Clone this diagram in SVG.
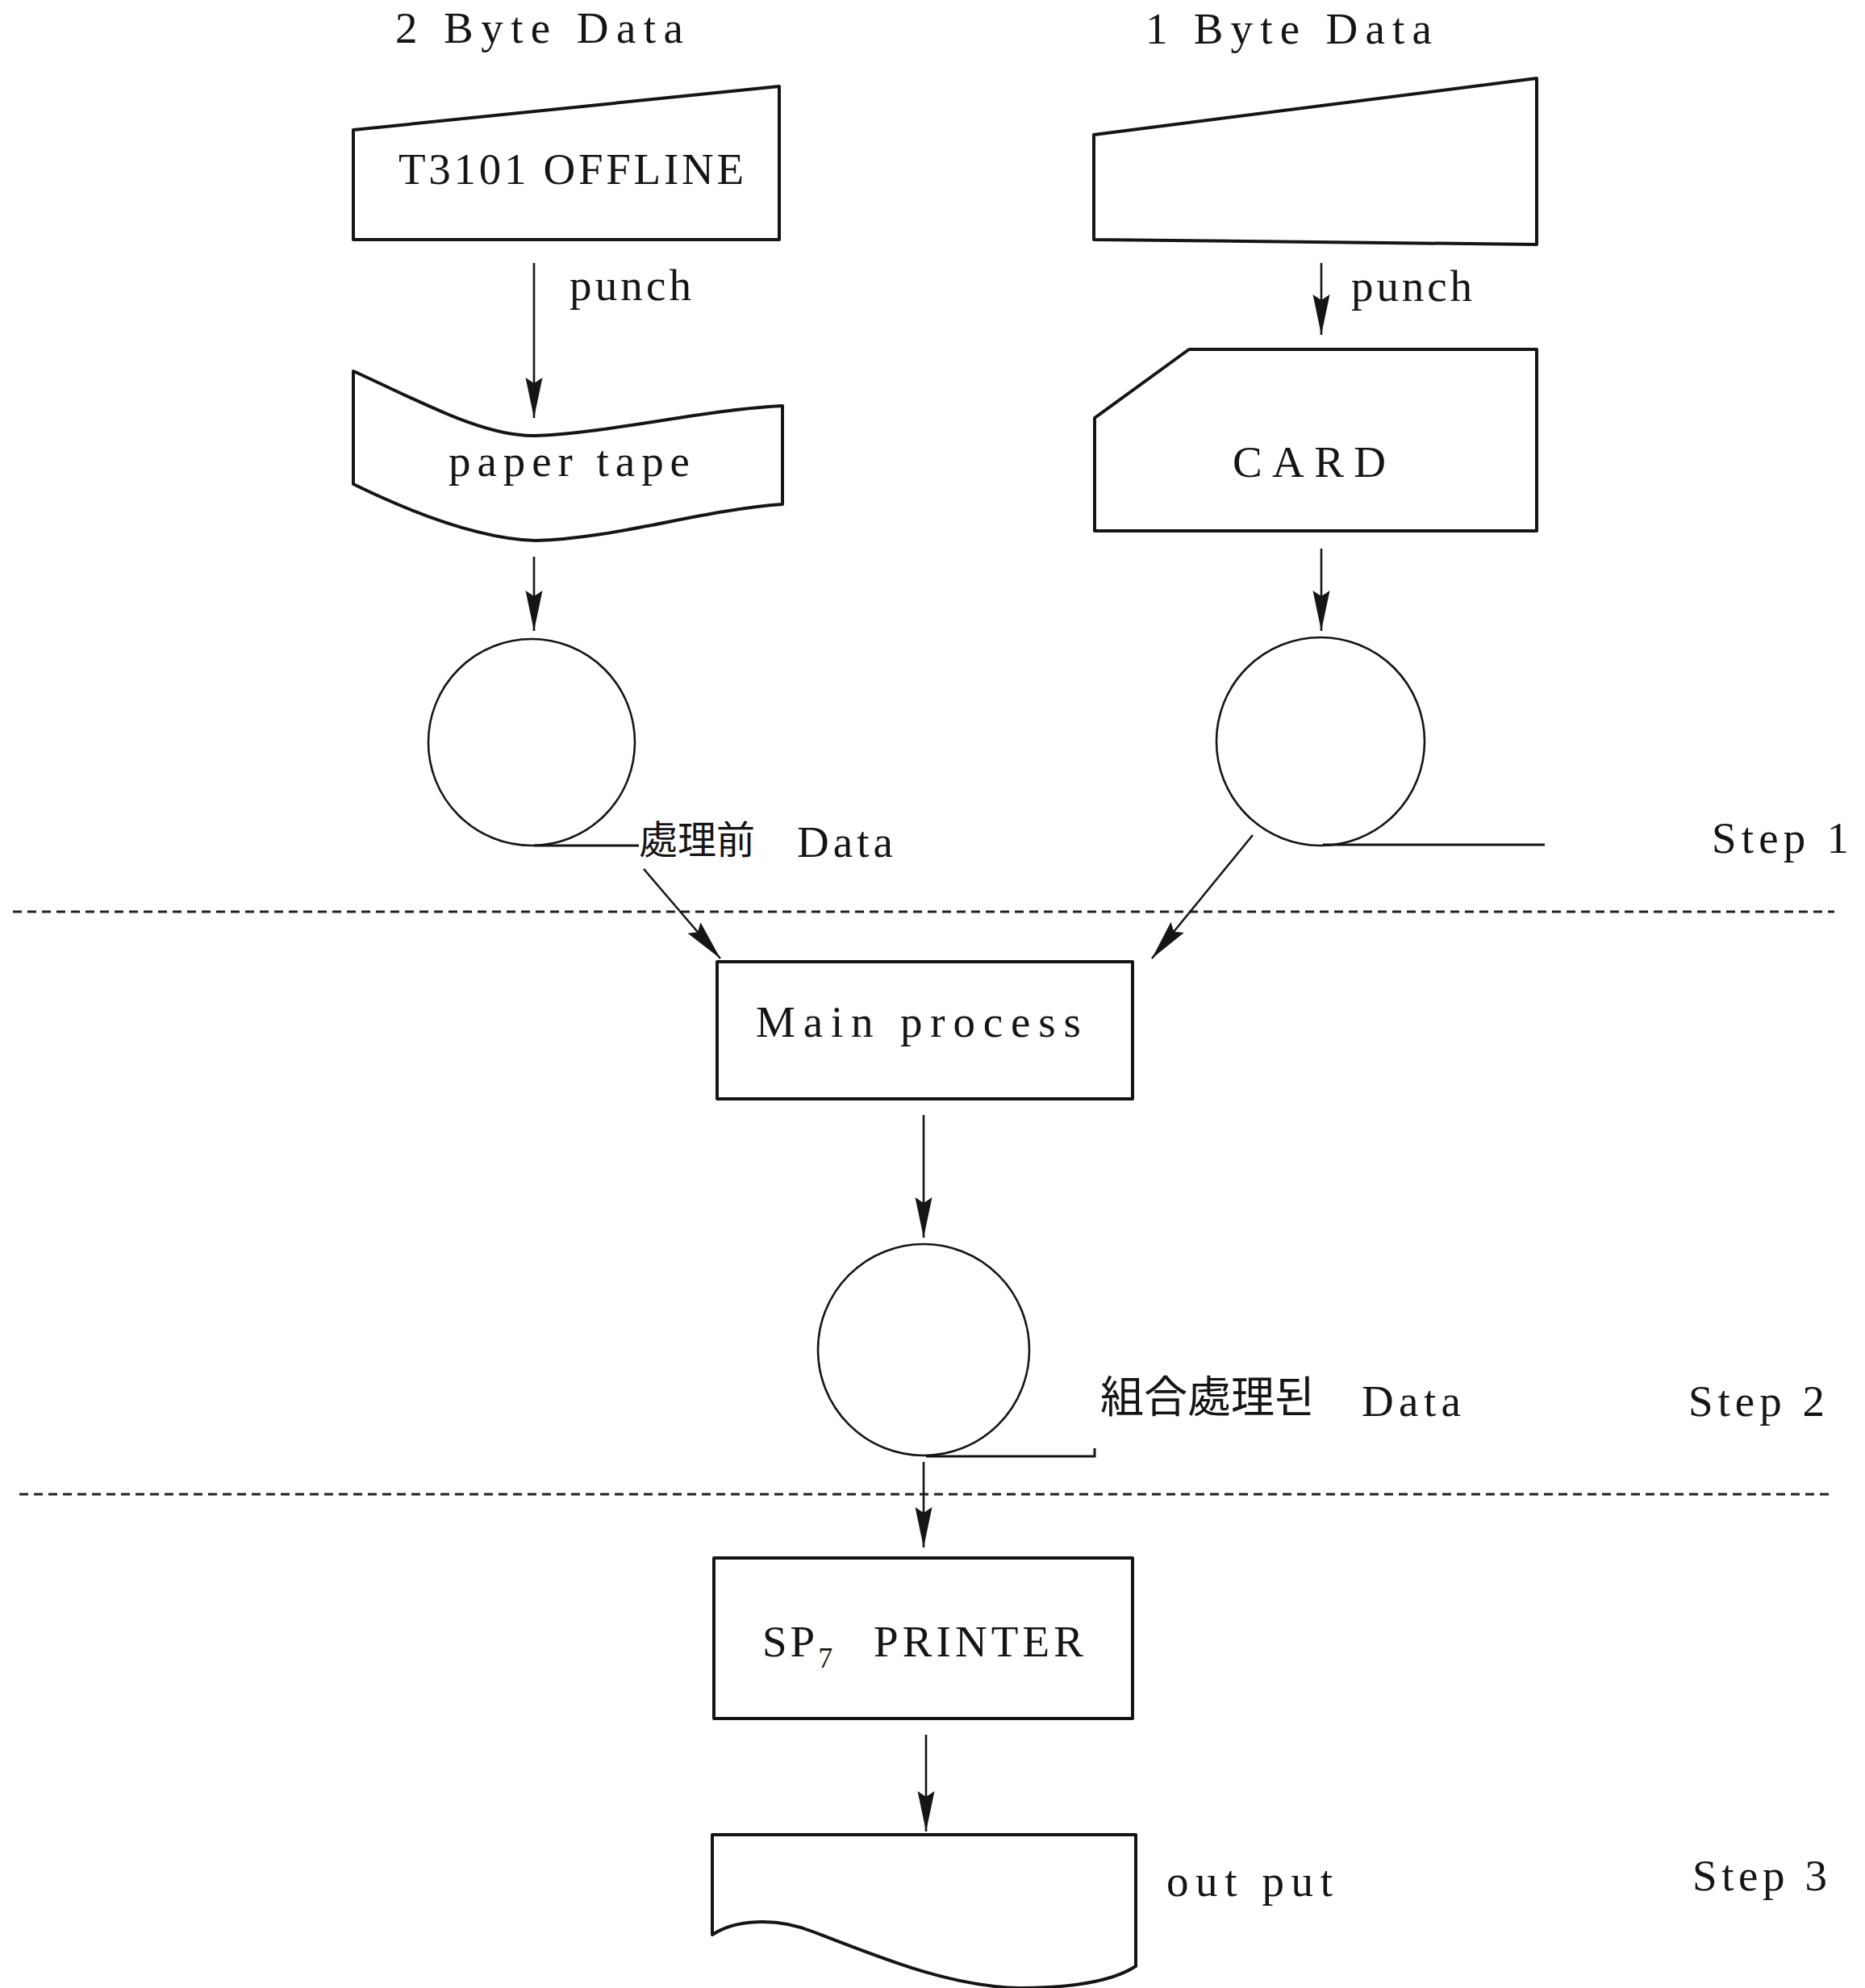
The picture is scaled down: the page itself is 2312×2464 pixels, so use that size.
<svg xmlns="http://www.w3.org/2000/svg" width="2312" height="2464" viewBox="0 0 2312 2464">
<style>
  .shape { fill: none; stroke: #151515; stroke-width: 4; stroke-linejoin: round; }
  .store { fill: none; stroke: #151515; stroke-width: 2.6; }
  .conn { fill: none; stroke: #151515; stroke-width: 2.6; marker-end: url(#arrow); }
  .plain { fill: none; stroke: #151515; stroke-width: 3; }
  .sep { fill: none; stroke: #222; stroke-width: 3.2; stroke-dasharray: 11 7; }
  text { font-family: "Liberation Serif", "DejaVu Serif", serif; fill: #151515; }
  .lbl { font-size: 55px; }
  .cjk { font-family: "Noto Sans CJK KR", "Noto Sans CJK SC", sans-serif; }
</style>
<defs>
  <marker id="arrow" markerUnits="userSpaceOnUse" markerWidth="54" markerHeight="26" viewBox="0 -13 54 26" refX="50" refY="0" orient="auto">
    <path d="M0,-10.5 L50,0 L0,10.5 L7,0 Z" fill="#151515"/>
  </marker>
</defs>

<g id="label-2byte">
  <text class="lbl" x="490" y="53" textLength="357" lengthAdjust="spacing">2 Byte Data</text>
</g>
<g id="label-1byte">
  <text class="lbl" x="1420" y="54" textLength="355" lengthAdjust="spacing">1 Byte Data</text>
</g>

<g id="node-t3101">
  <polygon class="shape" points="438,161 966,107 966,297 438,297"/>
  <text class="lbl" x="494" y="228" textLength="428" lengthAdjust="spacing">T3101 OFFLINE</text>
</g>

<g id="node-input2">
  <polygon class="shape" points="1356,167 1905,97 1905,303 1356,297"/>
</g>

<g id="node-papertape">
  <path class="shape" d="M438,460 C520,497 600,542 664,540 C760,536 870,508 970,503 L970,625 C870,632 760,668 664,670 C600,668 520,640 438,600 Z"/>
  <text class="lbl" x="556" y="590" textLength="299" lengthAdjust="spacing">paper tape</text>
</g>

<g id="node-card">
  <polygon class="shape" points="1357,518 1474,433 1905,433 1905,658 1357,658"/>
  <text class="lbl" x="1528" y="591" textLength="190" lengthAdjust="spacing">CARD</text>
</g>

<g id="node-store-left">
  <circle class="store" cx="659" cy="920" r="128"/>
  <line class="plain" x1="662" y1="1048" x2="792" y2="1048"/>
  <text y="1062"><tspan class="cjk" x="792" y="1058" font-size="48">處理前</tspan><tspan class="lbl" x="988" y="1062" textLength="119" lengthAdjust="spacing">Data</tspan></text>
</g>

<g id="node-store-right">
  <circle class="store" cx="1637" cy="919" r="129"/>
  <line class="plain" x1="1640" y1="1047" x2="1915" y2="1047"/>
</g>

<g id="label-step1">
  <text class="lbl" x="2122" y="1057" textLength="170" lengthAdjust="spacing">Step 1</text>
</g>

<g id="node-main">
  <rect class="shape" x="889" y="1192" width="515" height="170"/>
  <text class="lbl" x="937" y="1285" textLength="403" lengthAdjust="spacing">Main process</text>
</g>

<g id="node-store-mid">
  <circle class="store" cx="1145" cy="1673" r="131"/>
  <polyline class="plain" points="1148,1805 1357,1805 1357,1795"/>
  <text y="1755"><tspan class="cjk" x="1364" y="1751" font-size="54">組合處理된</tspan><tspan class="lbl" x="1688" y="1755" textLength="123" lengthAdjust="spacing">Data</tspan></text>
</g>

<g id="label-step2">
  <text class="lbl" x="2093" y="1755" textLength="169" lengthAdjust="spacing">Step 2</text>
</g>

<g id="node-printer">
  <rect class="shape" x="885" y="1931" width="519" height="199"/>
  <text class="lbl" x="945" y="2053" letter-spacing="4">SP<tspan font-size="36" dy="14" letter-spacing="0">7</tspan><tspan x="1083" y="2053" textLength="264" lengthAdjust="spacing">PRINTER</tspan></text>
</g>

<g id="node-output">
  <path class="shape" d="M883,2274 L1408,2274 L1408,2437 C1380,2455 1330,2464 1263,2464 C1180,2462 1100,2430 1010,2395 C960,2375 910,2380 883,2398 Z"/>
  <text class="lbl" x="1446" y="2350" textLength="206" lengthAdjust="spacing">out put</text>
</g>

<g id="label-step3">
  <text class="lbl" x="2098" y="2343" textLength="167" lengthAdjust="spacing">Step 3</text>
</g>

<g id="separators">
  <line class="sep" x1="16" y1="1130" x2="2274" y2="1130"/>
  <line class="sep" x1="24" y1="1852" x2="2274" y2="1852"/>
</g>

<g id="connectors">
  <line class="conn" x1="662" y1="326" x2="662" y2="518"/>
  <text class="lbl" x="706" y="372" textLength="151" lengthAdjust="spacing">punch</text>
  <line class="conn" x1="1638" y1="326" x2="1638" y2="415"/>
  <text class="lbl" x="1675" y="373" textLength="150" lengthAdjust="spacing">punch</text>
  <line class="conn" x1="662" y1="690" x2="662" y2="782"/>
  <line class="conn" x1="1638" y1="680" x2="1638" y2="782"/>
  <line class="conn" x1="798" y1="1077" x2="893" y2="1188"/>
  <line class="conn" x1="1553" y1="1035" x2="1428" y2="1188"/>
  <line class="conn" x1="1145" y1="1382" x2="1145" y2="1534"/>
  <line class="conn" x1="1145" y1="1812" x2="1145" y2="1918"/>
  <line class="conn" x1="1148" y1="2150" x2="1148" y2="2270"/>
</g>
</svg>
